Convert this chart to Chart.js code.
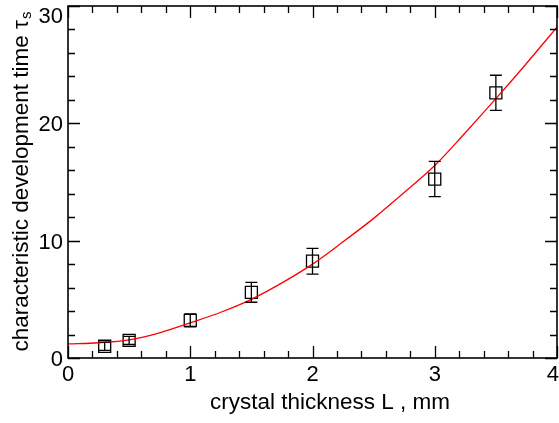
<!DOCTYPE html>
<html>
<head>
<meta charset="utf-8">
<script src="https://cdn.jsdelivr.net/npm/chart.js@4/dist/chart.umd.min.js"></script>
<style>
  html, body { margin: 0; padding: 0; background: #fff; }
  #wrap { width: 559px; height: 423px; }
</style>
</head>
<body>
<div id="wrap"><canvas id="chart"></canvas></div>
<script>
// measured points
const thickness = [0.3, 0.5, 1.0, 1.5, 2.0, 3.0, 3.5];
const devTime = [1.0, 1.5, 3.2, 5.6, 8.25, 15.25, 22.6];
const devErr = [0.35, 0.35, 0.55, 0.85, 1.1, 1.5, 1.5];

// fitted curve
const fitL = [0, 0.25, 0.5, 0.75, 1, 1.25, 1.5, 1.75, 2, 2.25, 2.5, 2.75, 3, 3.25, 3.5, 3.75, 4];
const fitTau = [1.2, 1.3, 1.55, 2.15, 3.0, 3.9, 5.0, 6.4, 8.0, 9.9, 11.9, 14.1, 16.4, 19.2, 22.1, 25.1, 28.2];

const xTicks = [0, 1, 2, 3, 4];
const yTicks = [0, 10, 20, 30];
const xMinorStep = 0.2;
const yMinorStep = 2;

const xTitle = 'crystal thickness L , mm';
const yTitle = 'characteristic development time \u03c4';
const ySub = 's';

const FONT = '"Liberation Sans", Arial, sans-serif';

const frameAndTicks = {
  id: 'frameAndTicks',
  afterDatasetsDraw(chart) {
    const { ctx, chartArea: a, scales: { x, y } } = chart;
    ctx.save();

    // error bars
    ctx.strokeStyle = '#000';
    ctx.lineWidth = 1.3;
    thickness.forEach((L, i) => {
      const px = x.getPixelForValue(L);
      const top = y.getPixelForValue(devTime[i] + devErr[i]);
      const bot = y.getPixelForValue(devTime[i] - devErr[i]);
      ctx.beginPath();
      ctx.moveTo(px, top); ctx.lineTo(px, bot);
      ctx.moveTo(px - 6, top); ctx.lineTo(px + 6, top);
      ctx.moveTo(px - 6, bot); ctx.lineTo(px + 6, bot);
      ctx.stroke();
    });

    // frame
    ctx.lineWidth = 1.6;
    ctx.strokeRect(a.left, a.top, a.right - a.left, a.bottom - a.top);

    // inward ticks on all sides
    ctx.lineWidth = 1.3;
    ctx.beginPath();
    for (let v = 0; v <= 4.0001; v += xMinorStep) {
      const major = xTicks.some(t => Math.abs(t - v) < 1e-6);
      const len = major ? 12 : 7;
      const px = Math.round(x.getPixelForValue(v)) + 0.5;
      ctx.moveTo(px, a.bottom); ctx.lineTo(px, a.bottom - len);
      ctx.moveTo(px, a.top); ctx.lineTo(px, a.top + len);
    }
    for (let v = 0; v <= 30.0001; v += yMinorStep) {
      const major = yTicks.some(t => Math.abs(t - v) < 1e-6);
      const len = major ? 12 : 7;
      const py = Math.round(y.getPixelForValue(v)) + 0.5;
      ctx.moveTo(a.left, py); ctx.lineTo(a.left + len, py);
      ctx.moveTo(a.right, py); ctx.lineTo(a.right - len, py);
    }
    ctx.stroke();

    // tick labels
    ctx.fillStyle = '#000';
    ctx.font = '22px ' + FONT;
    ctx.textAlign = 'center';
    ctx.textBaseline = 'alphabetic';
    xTicks.forEach(t => {
      let px = x.getPixelForValue(t);
      const w = ctx.measureText(String(t)).width;
      px = Math.min(px, chart.width - w / 2);
      ctx.fillText(String(t), px, 381);
    });
    ctx.textAlign = 'right';
    yTicks.forEach(t => {
      let py = y.getPixelForValue(t) + 8;
      py = Math.max(py, 23);
      ctx.fillText(String(t), a.left - 5, py);
    });

    // axis titles
    ctx.textAlign = 'center';
    ctx.font = '22.5px ' + FONT;
    ctx.fillText(xTitle, 330, 409);

    ctx.translate(28, (a.top + a.bottom) / 2);
    ctx.rotate(-Math.PI / 2);
    const mainW = ctx.measureText(yTitle).width;
    ctx.font = '15px ' + FONT;
    const subW = ctx.measureText(ySub).width;
    const start = -(mainW + subW) / 2;
    ctx.textAlign = 'left';
    ctx.font = '22.5px ' + FONT;
    ctx.fillText(yTitle, start, 0);
    ctx.font = '15px ' + FONT;
    ctx.fillText(ySub, start + mainW + 1, 3);

    ctx.restore();
  }
};

const chart = new Chart(document.getElementById('chart'), {
  type: 'scatter',
  data: {
    datasets: [
      {
        label: 'fit',
        data: fitL.map((L, i) => ({ x: L, y: fitTau[i] })),
        showLine: true,
        borderColor: '#ff0000',
        borderWidth: 1.3,
        pointRadius: 0,
        cubicInterpolationMode: 'monotone',
        fill: false
      },
      {
        label: 'measured',
        data: thickness.map((L, i) => ({ x: L, y: devTime[i] })),
        pointStyle: 'rect',
        pointRadius: 8.5,
        pointBorderColor: '#000',
        pointBackgroundColor: 'rgba(0,0,0,0)',
        pointBorderWidth: 1.3,
        showLine: false
      }
    ]
  },
  options: {
    responsive: true,
    maintainAspectRatio: false,
    animation: false,
    devicePixelRatio: 1,
    layout: { autoPadding: false, padding: { top: 6, right: 2, left: 0, bottom: 0 } },
    plugins: { legend: { display: false }, tooltip: { enabled: false } },
    scales: {
      x: {
        type: 'linear', min: 0, max: 4,
        grid: { display: false, drawTicks: false },
        border: { display: false },
        ticks: { display: false },
        afterFit(s) { s.height = 65; s.paddingLeft = 0; s.paddingRight = 0; }
      },
      y: {
        type: 'linear', min: 0, max: 30,
        grid: { display: false, drawTicks: false },
        border: { display: false },
        ticks: { display: false },
        afterFit(s) { s.width = 68; s.paddingTop = 0; s.paddingBottom = 0; }
      }
    }
  },
  plugins: [frameAndTicks]
});
</script>
</body>
</html>
